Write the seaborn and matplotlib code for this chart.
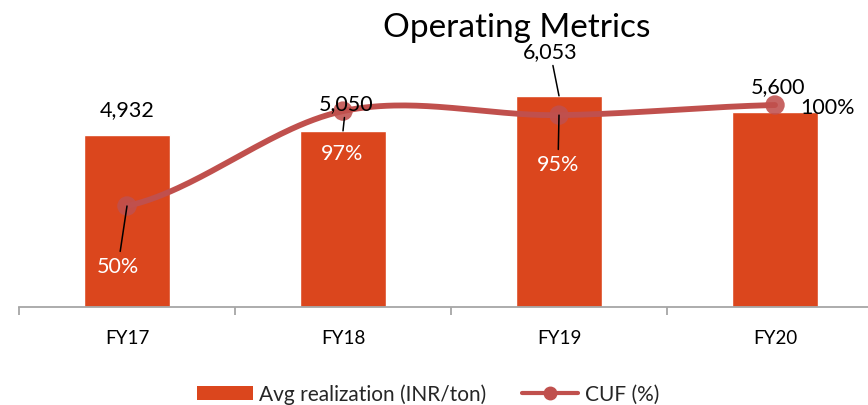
import numpy as np
import pandas as pd
import matplotlib
matplotlib.use('Agg')
import matplotlib.pyplot as plt
import seaborn as sns
from matplotlib.patches import Patch
from matplotlib.lines import Line2D

# values
years = ['FY17', 'FY18', 'FY19', 'FY20']
realization = [4932, 5050, 6053, 5600]      # Avg realization (INR/ton)
cuf = [50, 97, 95, 100]                      # CUF (%)
bar_labels = ['4,932', '5,050', '6,053', '5,600']
cuf_labels = ['50%', '97%', '95%', '100%']

bar_color = '#DB461D'
line_color = '#C0504D'

sns.set_style('white')
plt.rcParams['font.family'] = ['Lato', 'DejaVu Sans']

fig = plt.figure(figsize=(8.68, 4.06), dpi=100)
ax = fig.add_axes([19 / 868, 98 / 406, 864 / 868, 308 / 406])

df = pd.DataFrame({'year': years, 'realization': realization, 'cuf': cuf})
sns.barplot(data=df, x='year', y='realization', color=bar_color, width=0.4,
            saturation=1, ax=ax)
ax.set_ylim(0, 8830)
ax.set_xlim(-0.5, 3.5)
ax.set_xlabel('')
ax.set_ylabel('')
ax.set_yticks([])
for s in ['left', 'right', 'top']:
    ax.spines[s].set_visible(False)
ax.spines['bottom'].set_color('#A6A6A6')
ax.spines['bottom'].set_linewidth(1.3)
ax.set_xticks(np.arange(-0.5, 4.0, 1.0), minor=True)
ax.tick_params(axis='x', which='minor', length=6, width=1.3, color='#A6A6A6',
               direction='out', bottom=True)
ax.tick_params(axis='x', which='major', length=0, pad=16, labelsize=13.5,
               labelcolor='black')

# smoothed CUF line (excel-like bezier through the points)
ax2 = ax.twinx()
ax2.set_ylim(0, 152.5)
ax2.set_yticks([])
for s in ['left', 'right', 'top', 'bottom']:
    ax2.spines[s].set_visible(False)

xs = np.arange(len(cuf), dtype=float)
ys = np.array(cuf, dtype=float)
px = np.concatenate([[xs[0]], xs, [xs[-1]]])
py = np.concatenate([[ys[0]], ys, [ys[-1]]])
cx, cy = [], []
t = np.linspace(0, 1, 60)
for i in range(1, len(px) - 2):
    p0, p1, p2, p3 = py[i - 1], py[i], py[i + 1], py[i + 2]
    b1 = p1 + (p2 - p0) / 6
    b2 = p2 - (p3 - p1) / 6
    seg_y = (1 - t) ** 3 * p1 + 3 * (1 - t) ** 2 * t * b1 + 3 * (1 - t) * t ** 2 * b2 + t ** 3 * p2
    seg_x = px[i] + t * (px[i + 1] - px[i])
    cx.extend(seg_x)
    cy.extend(seg_y)
smooth = pd.DataFrame({'x': cx, 'y': cy})
sns.lineplot(data=smooth, x='x', y='y', color=line_color, lw=4.2, ax=ax2,
             sort=False, solid_capstyle='round')
ax2.scatter(xs, ys, s=14 ** 2, color=line_color, alpha=0.88, zorder=4,
            edgecolors='none')
ax2.set_xlabel('')
ax2.set_ylabel('')

# bar value labels (offsets in pixels)
bar_offsets = [(0, 26), (3, 28), (-9, 45), (3, 26)]
bar_leader = [False, True, True, False]
for i, (lab, off) in enumerate(zip(bar_labels, bar_offsets)):
    kw = {}
    if bar_leader[i]:
        kw['arrowprops'] = dict(arrowstyle='-', color='black', lw=1.1,
                                shrinkA=1, shrinkB=0)
    ax2.annotate(lab, xy=(i, realization[i]), xycoords=ax.transData,
                 xytext=off, textcoords='offset pixels', ha='center',
                 va='center', fontsize=15.5, color='black', zorder=6, **kw)

# CUF labels
cuf_offsets = [(-9, -60), (-1, -42), (-1, -49), (53, -2)]
cuf_colors = ['white', 'white', 'white', 'black']
cuf_leader = [True, False, True, False]
for i, (lab, off) in enumerate(zip(cuf_labels, cuf_offsets)):
    kw = {}
    if cuf_leader[i]:
        kw['arrowprops'] = dict(arrowstyle='-', color='black', lw=1.1,
                                shrinkA=1, shrinkB=0)
    ax2.annotate(lab, xy=(i, cuf[i]), xytext=off, textcoords='offset pixels',
                 ha='center', va='center', fontsize=15.5, color=cuf_colors[i],
                 zorder=6, **kw)

fig.text(517 / 868, 1 - 28 / 406, 'Operating Metrics', ha='center',
         va='center', fontsize=24, color='black')

handles = [Patch(facecolor=bar_color, edgecolor='none'),
           Line2D([], [], color=line_color, lw=3, marker='o', markersize=9)]
fig.legend(handles, ['Avg realization (INR/ton)', 'CUF (%)'], loc='center',
           bbox_to_anchor=(428 / 868, 1 - 395 / 406), ncol=2, frameon=False,
           fontsize=15, handlelength=2.7, handletextpad=0.3,
           columnspacing=1.7, borderpad=0)

fig.savefig('out.png', dpi=100)
